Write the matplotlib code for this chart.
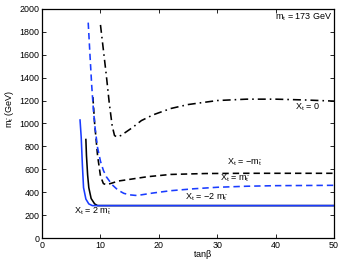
import matplotlib
matplotlib.use("Agg")
import matplotlib.pyplot as plt

plt.rcParams['font.family'] = ['Liberation Sans', 'DejaVu Sans']
plt.rcParams['mathtext.fontset'] = 'custom'
plt.rcParams['mathtext.rm'] = 'Liberation Sans'
plt.rcParams['mathtext.it'] = 'Liberation Sans'
plt.rcParams['mathtext.bf'] = 'Liberation Sans'

# X_t = 0 (black dash-dot)
tb_x0 = [10.0, 10.5, 11.0, 11.5, 12.0, 12.4, 12.8, 13.5, 14.5, 15.5, 17, 19, 22, 25, 30, 35, 40, 45, 50]
m_x0 = [1860, 1640, 1420, 1180, 980, 895, 882, 895, 930, 965, 1025, 1075, 1130, 1165, 1200, 1212, 1212, 1205, 1195]

# X_t = -m (black dashed)
tb_xm_neg = [8.7, 9.0, 9.5, 10.0, 10.5, 11.0, 12, 13, 15, 18, 22, 28, 35, 50]
m_xm_neg = [1230, 1000, 720, 540, 475, 465, 480, 497, 512, 535, 555, 563, 565, 565]

# X_t = m (blue dashed)
tb_xm_pos = [7.9, 8.2, 8.5, 8.8, 9.1, 9.5, 10.0, 10.5, 11, 12, 13, 14, 15, 16, 17, 19, 22, 26, 30, 35, 40, 50]
m_xm_pos = [1880, 1600, 1330, 1110, 950, 790, 670, 590, 535, 465, 418, 390, 377, 372, 377, 393, 413, 430, 443, 452, 457, 460]

# X_t = -2m (black solid)
tb_x2_neg = [7.5, 7.6, 7.8, 8.0, 8.4, 9.0, 9.5, 50]
m_x2_neg = [860, 720, 550, 440, 345, 298, 283, 283]

# X_t = 2m (blue solid)
tb_x2_pos = [6.5, 6.7, 6.9, 7.1, 7.5, 8.0, 8.6, 50]
m_x2_pos = [1030, 880, 640, 440, 340, 298, 283, 283]

xticks = [0, 10, 20, 30, 40, 50]
yticks = list(range(0, 2001, 200))

fig = plt.figure(figsize=(3.42, 2.61), dpi=100)
ax = fig.add_axes([0.123, 0.088, 0.854, 0.878])

lw = 1.15
ax.plot(tb_x0, m_x0, color='black', linestyle=(0, (5, 2.5, 1, 2.5)), linewidth=lw)
ax.plot(tb_xm_neg, m_xm_neg, color='black', linestyle=(0, (4, 2.5)), linewidth=lw)
ax.plot(tb_xm_pos, m_xm_pos, color='#1a3cff', linestyle=(0, (4, 2.5)), linewidth=lw)
ax.plot(tb_x2_neg, m_x2_neg, color='black', linestyle='-', linewidth=lw)
ax.plot(tb_x2_pos, m_x2_pos, color='#1a3cff', linestyle='-', linewidth=lw)

ax.set_xlim(0, 50)
ax.set_ylim(0, 2000)
ax.set_xticks(xticks)
ax.set_yticks(yticks)
ax.tick_params(direction='in', length=3, width=0.6, labelsize=6.4,
               top=True, right=True, pad=2)
for s in ax.spines.values():
    s.set_linewidth(0.9)

fs = 6.5
ax.text(49.7, 1975, r'$\mathrm{m_t}$ = 173 GeV', ha='right', va='top', fontsize=fs)
ax.text(45.4, 1140, r'$\mathrm{X_t}$ = 0', ha='center', va='center', fontsize=fs)
ax.text(34.8, 660, r'$\mathrm{X_t}$ = $-\mathrm{m_{\tilde{t}}}$', ha='center', va='center', fontsize=fs)
ax.text(33.0, 525, r'$\mathrm{X_t}$ = $\mathrm{m_{\tilde{t}}}$', ha='center', va='center', fontsize=fs)
ax.text(28.1, 360, r'$\mathrm{X_t}$ = $-$2 $\mathrm{m_{\tilde{t}}}$', ha='center', va='center', fontsize=fs)
ax.text(8.8, 236, r'$\mathrm{X_t}$ = 2 $\mathrm{m_{\tilde{t}}}$', ha='center', va='center', fontsize=fs)

ax.set_xlabel(r'tan$\mathrm{\beta}$', fontsize=fs)
ax.set_ylabel(r'$\mathrm{m_{\tilde{t}}}$ (GeV)', fontsize=fs)
ax.xaxis.set_label_coords(0.55, -0.045)
ax.yaxis.set_label_coords(-0.09, 0.56)

fig.savefig('out.png', dpi=100)
